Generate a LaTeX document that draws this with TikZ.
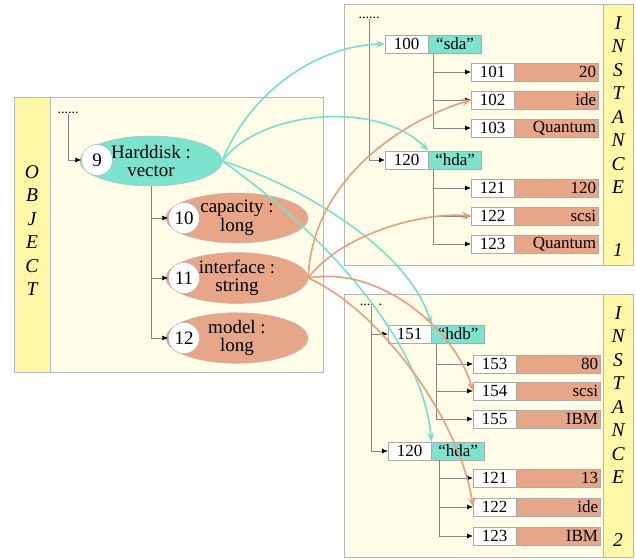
\documentclass[tikz,border=0pt]{standalone}
\usepackage{fontspec}
\setmainfont{Liberation Serif}
\usetikzlibrary{shapes.geometric}
\usetikzlibrary{calc}
\usetikzlibrary{arrows.meta}

\definecolor{panelbg}{RGB}{255,253,231}
\definecolor{stripbg}{RGB}{255,247,168}
\definecolor{panelline}{RGB}{182,182,182}
\definecolor{keycyan}{RGB}{125,227,207}
\definecolor{valorange}{RGB}{232,166,136}
\definecolor{linkcyan}{RGB}{120,224,206}
\definecolor{linkorange}{RGB}{234,158,126}
\definecolor{treegray}{RGB}{135,135,135}

\newcommand{\attrfont}{\fontsize{19}{18.5}\selectfont}
\newcommand{\cellfont}{\fontsize{17}{17}\selectfont}
\newcommand{\sidefont}{\fontsize{19.5}{19.5}\selectfont\itshape}
\newcommand{\dotfont}{\fontsize{14}{14}\selectfont}

\tikzset{
  panel/.style={draw=panelline, fill=panelbg, line width=0.9},
  strip/.style={draw=panelline, fill=stripbg, line width=0.9},
  sideletter/.style={inner sep=0, font=\sidefont},
  dotrow/.style={inner sep=0, font=\dotfont},
  attr/.style={ellipse, draw=treegray!60, minimum width=142, minimum height=50, inner sep=0, align=center, font=\attrfont},
  numcirc/.style={circle, draw=treegray!70, fill=white, minimum size=31, inner sep=0, font=\attrfont},
  idbox/.style={draw=treegray!70, fill=white, minimum width=43, minimum height=18, inner sep=0, anchor=west, font=\cellfont},
  keybox/.style={draw=treegray!70, fill=keycyan, minimum width=53, minimum height=18, inner sep=0, anchor=west, font=\cellfont},
  valbox/.style={draw=treegray!70, fill=valorange, text width=79, minimum height=18, inner xsep=2.5, inner ysep=0, align=right, anchor=west, font=\cellfont},
  branch/.style={draw=treegray, line width=0.8, -{Latex[length=6pt,width=5pt,color=black]}},
  cyanlink/.style={draw=linkcyan, line width=1.6, -{Stealth[length=9pt,width=7pt]}},
  orangelink/.style={draw=linkorange, line width=1.6, -{Stealth[length=9pt,width=7pt]}}
}

\begin{document}
\begin{tikzpicture}[x=1pt,y=1pt,yscale=-1]
\useasboundingbox (0,0) rectangle (636,559);

%Shape: Rectangle [object panel]
\draw[panel] (14,97) rectangle (323,372);
\draw[strip] (14,97) rectangle (50,372);
%Shape: Rectangle [instance 1 panel]
\draw[panel] (344,4) rectangle (633,265);
\draw[strip] (603,4) rectangle (633,265);
%Shape: Rectangle [instance 2 panel]
\draw[panel] (344,294) rectangle (633,557);
\draw[strip] (603,294) rectangle (633,557);

% Side labels
\foreach \ch [count=\k] in {O,B,J,E,C,T}
  \node[sideletter] (obj\k) at (32,{148.5+23.5*\k}) {\ch};
\foreach \ch [count=\k] in {I,N,S,T,A,N,C,E} {
  \node[sideletter] (insa\k) at (618,{-0.5+23.5*\k}) {\ch};
  \node[sideletter] (insb\k) at (618,{289.5+23.5*\k}) {\ch};
}
\node[sideletter] (insanum) at (618,250) {1};
\node[sideletter] (insbnum) at (618,540) {2};

% Object tree
\node[dotrow] (odots) at (68,113) {......};
\node[attr, fill=keycyan] (hd) at (151,161) {Harddisk :\\vector};
\node[attr, fill=valorange] (cap) at (237,218) {capacity :\\long};
\node[attr, fill=valorange] (ifc) at (237,278) {interface :\\string};
\node[attr, fill=valorange] (mdl) at (237,338) {model :\\long};
\node[numcirc] (n9) at (97,160) {9};
\node[numcirc] (n10) at (184,218) {10};
\node[numcirc] (n11) at (184,278) {11};
\node[numcirc] (n12) at (184,338) {12};

\draw[branch] (odots.south) |- (n9.west);
\foreach \n in {n10,n11,n12}
  \draw[branch] (hd.south) |- (\n.west);

% Instance 1
\node[dotrow] (dots1) at (369,18) {......};
\node[idbox] (i100) at (385,44) {100};
\node[keybox] (k100) at (i100.east) {``sda''};
\node[idbox] (i120a) at (385,160) {120};
\node[keybox] (k120a) at (i120a.east) {``hda''};
\foreach \id/\val/\y in {101/20/72,102/ide/100,103/Quantum/128,121/120/188,122/scsi/216,123/Quantum/244} {
  \node[idbox] (a\id) at (471,\y) {\id};
  \node[valbox] (av\id) at (a\id.east) {\val};
}

\draw[branch] (dots1.south) |- (i120a.west);
\coordinate (ta1) at ($(k100.south west)+(5,0)$);
\foreach \r in {101,102,103}
  \draw[branch] (ta1) |- (a\r.west);
\coordinate (ta2) at ($(k120a.south west)+(5,0)$);
\foreach \r in {121,122,123}
  \draw[branch] (ta2) |- (a\r.west);

% Instance 2
\node[dotrow] (dots2) at (371,305) {....\,\,.};
\node[idbox] (i151) at (388,334) {151};
\node[keybox] (k151) at (i151.east) {``hdb"};
\node[idbox] (i120b) at (388,451) {120};
\node[keybox] (k120b) at (i120b.east) {``hda''};
\foreach \id/\val/\y in {153/80/364,154/scsi/391,155/IBM/419,121/13/478,122/ide/507,123/IBM/536} {
  \node[idbox] (b\id) at (473,\y) {\id};
  \node[valbox] (bv\id) at (b\id.east) {\val};
}

\draw[branch] (dots2.south) |- (i151.west);
\draw[branch] (dots2.south) |- (i120b.west);
\coordinate (tb1) at ($(k151.south west)+(5,0)$);
\foreach \r in {153,154,155}
  \draw[branch] (tb1) |- (b\r.west);
\coordinate (tb2) at ($(k120b.south west)+(8,0)$);
\foreach \r in {121,122,123}
  \draw[branch] (tb2) |- (b\r.west);

% Links from Harddisk
\draw[cyanlink] (hd.east) .. controls ($(hd.east)+(28,-71)$) and ($(i100.west)+(-65,1)$) .. (i100.west);
\draw[cyanlink] (hd.east) .. controls ($(hd.east)+(38,-51)$) and ($(k120a.north west)+(-50,-51)$) .. (k120a.north west);
\draw[cyanlink] (hd.east) .. controls ($(hd.east)+(78,24)$) and ($(k151.north west)+(-22,-75)$) .. (k151.north west);
\draw[cyanlink] (hd.east) .. controls ($(hd.east)+(78,54)$) and ($(k120b.north west)+(-10,-113)$) .. (k120b.north west);

% Links from interface
\draw[orangelink] (ifc.east) .. controls ($(ifc.east)+(4,-103)$) and ($(a102.west)+(-61,18)$) .. (a102.west);
\draw[orangelink] (ifc.east) .. controls ($(ifc.east)+(32,-43)$) and ($(a122.west)+(-51,-4)$) .. (a122.west);
\draw[orangelink] (ifc.east) .. controls ($(ifc.east)+(72,-13)$) and ($(b154.west)+(-18,-61)$) .. (b154.west);
\draw[orangelink] (ifc.east) .. controls ($(ifc.east)+(72,32)$) and ($(b122.west)+(-13,-87)$) .. (b122.west);

\end{tikzpicture}
\end{document}
